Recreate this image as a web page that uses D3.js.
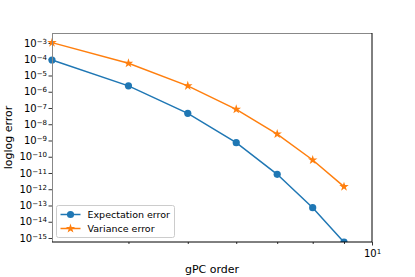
<!DOCTYPE html>
<html>
<head>
<meta charset="utf-8">
<script src="https://cdn.jsdelivr.net/npm/d3@7"></script>
<style>
    body { margin: 0; background: #fff; }
    text { font-family: 'DejaVu Sans', sans-serif; fill: #000; }
</style>
</head>
<body>
<div class="chart"></div>
<script>
// Data
const orders = [3, 4, 5, 6, 7, 8, 9];
const expectationError = [9e-5, 2.3e-6, 4.7e-8, 7.3e-10, 8.3e-12, 7.3e-14, 5.5e-16];
const varianceError = [1.05e-3, 5.6e-5, 2.3e-6, 8.3e-8, 2.5e-9, 6.3e-11, 1.45e-12];
const yTickExponents = [-3, -4, -5, -6, -7, -8, -9, -10, -11, -12, -13, -14, -15];
const xMinorTicks = [4, 5, 6, 7, 8, 9];
const xMajorTicks = [10];

const series = [
    { name: 'Expectation error', color: '#1f77b4', marker: 'circle', values: expectationError },
    { name: 'Variance error', color: '#ff7f0e', marker: 'star', values: varianceError },
];

// Set up margins
const margin = { top: 33, right: 43, bottom: 35, left: 52 };
const svgWidth = 415;
const svgHeight = 277;
const width = svgWidth - margin.left - margin.right;
const height = svgHeight - margin.top - margin.bottom;

const xScale = d3.scaleLog().domain([3, 10]).range([0, width]);
const yScale = d3.scaleLog().domain([5.67e-16, 4.12e-3]).range([height, 0]);

const svg = d3.select('.chart')
    .append('svg')
    .attr('width', svgWidth)
    .attr('height', svgHeight)
    .append('g')
    .attr('transform', 'translate(' + margin.left + ',' + margin.top + ')');

// Clip path for the plot area
svg.append('clipPath')
    .attr('id', 'clip')
    .append('rect')
    .attr('x', -6)
    .attr('y', 0)
    .attr('width', width + 6)
    .attr('height', height);

// Axes
const yAxis = d3.axisLeft(yScale)
    .tickValues(yTickExponents.map(e => Math.pow(10, e)))
    .tickFormat('')
    .tickSizeInner(3.5)
    .tickSizeOuter(0);
const yAxisDraw = svg.append('g').attr('class', 'y axis');
yAxis(yAxisDraw);

const xMinor = d3.axisBottom(xScale)
    .tickValues(xMinorTicks)
    .tickFormat('')
    .tickSizeInner(2)
    .tickSizeOuter(0);
const xMinorDraw = svg.append('g').attr('transform', 'translate(0,' + height + ')');
xMinor(xMinorDraw);

const xMajor = d3.axisBottom(xScale)
    .tickValues(xMajorTicks)
    .tickFormat('')
    .tickSizeInner(3.5)
    .tickSizeOuter(0);
const xMajorDraw = svg.append('g').attr('transform', 'translate(0,' + height + ')');
xMajor(xMajorDraw);

svg.selectAll('.domain').remove();
svg.selectAll('.tick line').attr('stroke', '#000').attr('stroke-width', 0.8);

// Tick labels with superscripts
yAxisDraw.selectAll('.tick').each(function (d, i) {
    const t = d3.select(this).append('text')
        .attr('x', -5)
        .attr('dy', '0.32em')
        .attr('text-anchor', 'end')
        .style('font-size', '10px');
    t.append('tspan').text('10');
    t.append('tspan')
        .attr('dy', '-0.45em')
        .style('font-size', '7px')
        .text('\u2212' + Math.abs(yTickExponents[i]));
});

xMajorDraw.selectAll('.tick').each(function () {
    const t = d3.select(this).append('text')
        .attr('y', 15)
        .attr('text-anchor', 'middle')
        .style('font-size', '10px');
    t.append('tspan').text('10');
    t.append('tspan')
        .attr('dy', '-0.45em')
        .style('font-size', '7px')
        .text('1');
});

// Lines and markers
const line = d3.line()
    .x((d, i) => xScale(orders[i]))
    .y(d => yScale(d));

const star = d3.symbol().type(d3.symbolStar).size(28);

const plot = svg.append('g').attr('clip-path', 'url(#clip)');

series.forEach(s => {
    plot.append('path')
        .datum(s.values)
        .attr('fill', 'none')
        .attr('stroke', s.color)
        .attr('stroke-width', 1.5)
        .attr('d', line);

    if (s.marker === 'circle') {
        plot.selectAll('.m-' + s.marker)
            .data(s.values)
            .enter()
            .append('circle')
            .attr('cx', (d, i) => xScale(orders[i]))
            .attr('cy', d => yScale(d))
            .attr('r', 3.6)
            .attr('fill', s.color);
    } else {
        plot.selectAll('.m-' + s.marker)
            .data(s.values)
            .enter()
            .append('path')
            .attr('d', star)
            .attr('transform', (d, i) => 'translate(' + xScale(orders[i]) + ',' + yScale(d) + ')')
            .attr('fill', s.color);
    }
});

// Frame
svg.append('line').attr('x1', 0).attr('x2', width).attr('y1', 0.5).attr('y2', 0.5)
    .attr('stroke', '#888').attr('stroke-width', 1);
svg.append('line').attr('x1', 0.5).attr('x2', 0.5).attr('y1', 0).attr('y2', height)
    .attr('stroke', '#888').attr('stroke-width', 1);
svg.append('line').attr('x1', width).attr('x2', width).attr('y1', 0).attr('y2', height)
    .attr('stroke', '#000').attr('stroke-width', 1);
svg.append('line').attr('x1', 0).attr('x2', width).attr('y1', height).attr('y2', height)
    .attr('stroke', '#000').attr('stroke-width', 1);

// Legend
const legend = svg.append('g').attr('transform', 'translate(4.5,' + (height - 36.5) + ')');
legend.append('rect')
    .attr('width', 118)
    .attr('height', 32)
    .attr('rx', 2)
    .attr('fill', '#fff')
    .attr('fill-opacity', 0.8)
    .attr('stroke', '#ccc')
    .attr('stroke-width', 1);

series.forEach((s, i) => {
    const y = 9 + i * 14;
    const g = legend.append('g').attr('transform', 'translate(0,' + y + ')');
    g.append('line')
        .attr('x1', 4).attr('x2', 24)
        .attr('stroke', s.color).attr('stroke-width', 1.5);
    if (s.marker === 'circle') {
        g.append('circle').attr('cx', 14).attr('r', 3.6).attr('fill', s.color);
    } else {
        g.append('path').attr('d', star).attr('transform', 'translate(14,0)').attr('fill', s.color);
    }
    g.append('text')
        .attr('x', 31)
        .attr('dy', '0.35em')
        .style('font-size', '9.5px')
        .text(s.name);
});

// Axis labels
svg.append('text')
    .attr('x', width / 2)
    .attr('y', height + 31)
    .attr('text-anchor', 'middle')
    .style('font-size', '11px')
    .text('gPC order');

svg.append('text')
    .attr('transform', 'translate(' + (-40) + ',' + (height / 2) + ') rotate(-90)')
    .attr('text-anchor', 'middle')
    .style('font-size', '11px')
    .text('loglog error');
</script>
</body>
</html>
